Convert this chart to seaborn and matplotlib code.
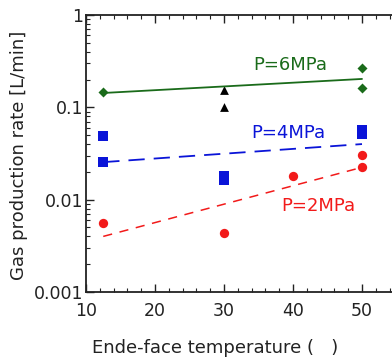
import numpy as np
import pandas as pd
import matplotlib
matplotlib.use("Agg")
import matplotlib.pyplot as plt
import seaborn as sns
from matplotlib.ticker import MultipleLocator, LogLocator, FixedFormatter, FixedLocator

sns.set_style("ticks")
plt.rcParams['font.family'] = ['DejaVu Sans']

# Data
p6_temp = [12.5, 50, 50]
p6_rate = [0.147, 0.267, 0.162]
tri_temp = [30, 30]
tri_rate = [0.154, 0.101]
p4_temp = [12.5, 12.5, 30, 30, 50, 50]
p4_rate = [0.049, 0.0255, 0.018, 0.0165, 0.057, 0.052]
p2_temp = [12.5, 30, 40, 50, 50]
p2_rate = [0.0056, 0.0044, 0.018, 0.0224, 0.0304]

fit_temp = [12.5, 50]
fit6 = [0.143, 0.203]
fit4 = [0.0255, 0.040]
fit2 = [0.0040, 0.0224]

yticks = [0.001, 0.01, 0.1, 1]
ytick_labels = ["0.001", "0.01", "0.1", "1"]
xticks = [10, 20, 30, 40, 50]

fig = plt.figure(figsize=(3.92, 3.57), dpi=100)
ax = fig.add_axes([86/392, 65/357, 310.5/392, 277/357])

green = "#1a6b1a"
blue = "#0a14d8"
red = "#f21a1a"

sns.lineplot(x=fit_temp, y=fit6, ax=ax, color=green, lw=1.3)
sns.lineplot(x=fit_temp, y=fit4, ax=ax, color=blue, lw=1.3)
ax.lines[-1].set_dashes([9, 5])
sns.lineplot(x=fit_temp, y=fit2, ax=ax, color=red, lw=1.1)
ax.lines[-1].set_dashes([6, 5])

sns.scatterplot(x=p6_temp, y=p6_rate, ax=ax, marker="D", s=26, color=green, edgecolor=green, linewidth=0)
sns.scatterplot(x=tri_temp, y=tri_rate, ax=ax, marker="^", s=40, color="black", edgecolor="black", linewidth=0)
sns.scatterplot(x=p4_temp, y=p4_rate, ax=ax, marker="s", s=55, color=blue, edgecolor=blue, linewidth=0)
sns.scatterplot(x=p2_temp, y=p2_rate, ax=ax, marker="o", s=45, color=red, edgecolor=red, linewidth=0)

ax.set_yscale("log")
ax.set_ylim(0.001, 1)
ax.set_xlim(10, 55)
ax.xaxis.set_major_locator(FixedLocator(xticks))
ax.xaxis.set_minor_locator(MultipleLocator(2))
ax.yaxis.set_major_locator(FixedLocator(yticks))
ax.yaxis.set_major_formatter(FixedFormatter(ytick_labels))
ax.yaxis.set_minor_locator(LogLocator(base=10, subs=np.arange(2, 10)))

ax.tick_params(which="both", direction="in", top=True, right=False, colors="#222222", labelcolor="#222222")
ax.tick_params(which="major", length=6, width=1, labelsize=12.5)
ax.tick_params(which="minor", length=3, width=0.8)
ax.tick_params(axis="x", which="major", pad=7)
ax.tick_params(axis="y", which="major", pad=2)
for s in ["left", "bottom", "top"]:
    ax.spines[s].set_color("#222222")
    ax.spines[s].set_linewidth(1.3)
ax.spines["right"].set_visible(False)

ax.set_xlabel("Ende-face temperature (   )", fontsize=13, color="#222222")
ax.xaxis.set_label_coords(0.415, -0.17)
ax.set_ylabel("Gas production rate [L/min]", fontsize=13, color="#222222")
ax.yaxis.set_label_coords(-0.187, 0.495)

ax.text(39.6, 0.287, "P=6MPa", color=green, fontsize=13, ha="center", va="center")
ax.text(39.3, 0.0528, "P=4MPa", color=blue, fontsize=13, ha="center", va="center")
ax.text(43.6, 0.0085, "P=2MPa", color=red, fontsize=13, ha="center", va="center")

fig.savefig("out.png", dpi=100)
